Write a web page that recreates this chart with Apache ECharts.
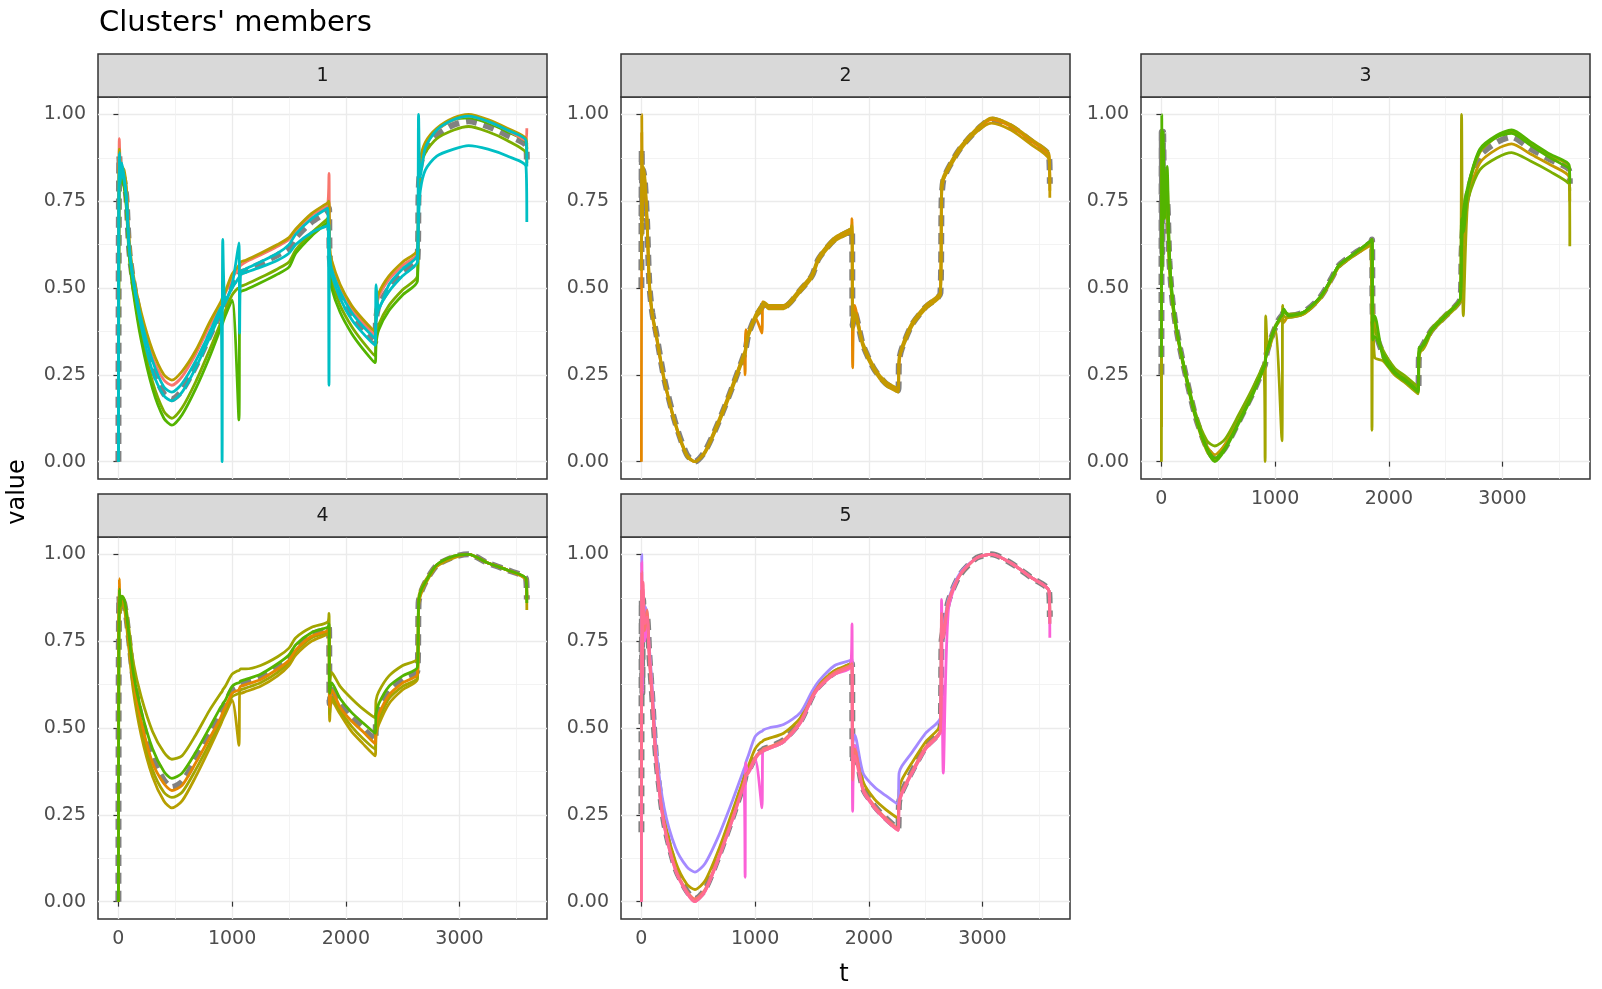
<!DOCTYPE html>
<html>
<head>
<meta charset="UTF-8">
<title>Clusters' members</title>
<script src="https://cdn.jsdelivr.net/npm/echarts@6/dist/echarts.min.js"></script>
<style>
  html,body{margin:0;padding:0;width:100%;height:100%;overflow:hidden;background:#fff;}
  #chart{position:absolute;left:0;top:0;width:1602px;height:989px;}
</style>
</head>
<body>
<div id="chart"></div>
<script>
// shared time knots (t) for every member curve
const tKnots = [0,3,8,15,30,50,70,95,130,200,300,400,470,560,680,800,900,912,918,940,1000,1060,1066,1075,1120,1250,1400,1500,1560,1700,1840,1852,1858,1875,1950,2050,2150,2258,2266,2290,2380,2500,2630,2640,2655,2700,2800,2950,3080,3250,3420,3585,3592];

// cluster 1
const c1A = [0,.55,.90,.86,.85,.84,.79,.64,.54,.43,.32,.25,.235,.26,.32,.40,.46,.47,.475,.49,.54,.565,.57,.575,.58,.60,.625,.645,.67,.715,.745,.75,.62,.58,.51,.45,.41,.375,.44,.485,.535,.575,.61,.79,.87,.92,.96,.99,1.0,.985,.96,.93,.90];
const c1B = [0,.6,.93,.87,.85,.83,.78,.63,.53,.42,.30,.235,.22,.245,.31,.39,.45,.46,.47,.485,.53,.555,.56,.565,.575,.595,.62,.64,.665,.71,.74,.83,.61,.57,.50,.44,.40,.365,.43,.475,.525,.565,.60,.78,.86,.915,.955,.985,.995,.98,.955,.925,.96];
const c1C = [0,.5,.86,.84,.82,.80,.74,.60,.50,.37,.23,.145,.125,.155,.23,.32,.40,.41,.415,.435,.48,.50,.50,.505,.51,.53,.555,.575,.61,.66,.70,.71,.57,.52,.45,.39,.345,.305,.36,.395,.45,.495,.535,.76,.84,.89,.93,.955,.965,.95,.925,.89,.86];
const c1D = [0,.45,.85,.83,.81,.79,.73,.59,.49,.35,.21,.125,.105,.135,.21,.30,.385,.395,.40,.42,.465,.12,.48,.49,.495,.515,.54,.56,.60,.65,.69,.70,.55,.50,.43,.37,.325,.285,.34,.38,.435,.48,.52,.75,.85,.91,.955,.985,.99,.975,.95,.92,.89];
const c1E = [0,.7,.88,.80,.86,.82,.76,.62,.53,.41,.29,.215,.20,.225,.29,.37,.445,0,.64,.46,.51,.63,.37,.545,.555,.575,.60,.625,.655,.70,.73,.22,.60,.555,.49,.43,.39,.355,.51,.44,.51,.555,.595,1.0,.82,.905,.955,.985,.995,.98,.955,.925,.85];
const c1F = [0,.65,.89,.84,.83,.81,.76,.61,.52,.39,.26,.19,.175,.20,.27,.355,.43,.44,.445,.46,.50,.53,.535,.54,.545,.56,.58,.60,.625,.66,.68,.685,.58,.54,.47,.41,.37,.335,.40,.44,.49,.535,.575,.70,.78,.84,.88,.90,.91,.90,.88,.85,.69];
const c1Center = [0,.6,.88,.84,.83,.81,.76,.61,.52,.40,.27,.195,.18,.205,.275,.36,.43,.44,.445,.465,.51,.535,.54,.545,.55,.57,.595,.615,.645,.69,.72,.73,.59,.55,.48,.42,.38,.345,.41,.45,.50,.545,.58,.77,.85,.90,.94,.97,.98,.965,.94,.91,.87];

// cluster 2
const c2A = [.55,1.0,.65,.85,.82,.70,.52,.43,.37,.24,.11,.02,0,.03,.12,.22,.31,.32,.33,.37,.42,.45,.45,.46,.45,.45,.50,.54,.59,.645,.67,.68,.40,.43,.34,.27,.23,.21,.29,.33,.40,.45,.49,.80,.82,.85,.905,.96,.99,.97,.93,.885,.76];
const c2B = [0,.95,.7,.83,.80,.68,.5,.42,.36,.235,.105,.018,0,.028,.115,.215,.30,.25,.38,.365,.415,.37,.46,.45,.445,.445,.495,.535,.585,.64,.665,.70,.27,.45,.335,.265,.225,.205,.28,.325,.395,.445,.485,.78,.81,.845,.90,.955,.985,.965,.925,.88,.80];
const c2C = [.6,.9,.8,.84,.81,.69,.51,.425,.365,.235,.105,.015,0,.025,.11,.21,.30,.31,.32,.36,.41,.44,.445,.455,.44,.44,.49,.53,.58,.635,.66,.665,.38,.42,.33,.26,.22,.20,.30,.32,.39,.44,.48,.76,.81,.84,.895,.95,.975,.955,.915,.87,.78];
const c2Center = [.5,.9,.7,.84,.81,.69,.51,.43,.37,.24,.11,.02,0,.03,.115,.215,.305,.315,.325,.365,.415,.445,.45,.455,.445,.445,.495,.535,.585,.64,.665,.67,.39,.43,.335,.265,.225,.205,.29,.325,.395,.445,.485,.75,.81,.845,.90,.955,.985,.965,.925,.88,.80];

// cluster 3
const c3A = [.3,1,.55,.95,.7,.85,.6,.48,.39,.27,.13,.035,0,.035,.11,.19,.27,.28,.30,.33,.385,.42,.42,.44,.42,.43,.475,.53,.565,.60,.635,.64,.40,.42,.30,.255,.23,.20,.31,.33,.38,.42,.47,.60,.72,.80,.90,.94,.955,.92,.885,.855,.80];
const c3B = [0,.95,.7,.9,.75,.80,.58,.47,.38,.265,.125,.03,.005,.04,.115,.195,.265,0,.42,.32,.38,.06,.45,.42,.415,.425,.47,.525,.56,.595,.63,.09,.50,.30,.29,.25,.225,.195,.32,.32,.375,.415,.465,1.0,.42,.78,.89,.935,.95,.915,.88,.85,.62];
const c3C = [.1,.9,.8,.82,.78,.75,.57,.47,.385,.27,.135,.045,.02,.05,.125,.20,.275,.285,.30,.33,.385,.415,.42,.40,.42,.425,.47,.525,.56,.595,.625,.64,.45,.40,.31,.265,.24,.21,.30,.325,.38,.42,.465,.55,.62,.76,.86,.90,.915,.885,.855,.82,.75];
const c3D = [.25,.85,.9,.75,.8,.72,.56,.46,.38,.275,.14,.06,.045,.065,.135,.21,.28,.29,.305,.335,.39,.42,.425,.43,.425,.43,.475,.53,.565,.60,.63,.635,.42,.38,.32,.27,.245,.215,.31,.33,.385,.425,.47,.65,.68,.76,.84,.875,.89,.865,.835,.80,.78];
const c3E = [.5,.95,.7,.9,.8,.78,.59,.475,.39,.27,.13,.04,.01,.04,.115,.195,.27,.28,.30,.33,.385,.42,.42,.435,.42,.43,.475,.53,.565,.60,.635,.64,.35,.36,.31,.26,.235,.205,.33,.33,.38,.42,.47,.70,.66,.79,.895,.935,.945,.91,.875,.845,.84];
const c3Center = [.25,.95,.6,.95,.7,.75,.58,.47,.385,.27,.13,.04,.01,.04,.115,.195,.27,.28,.30,.33,.385,.42,.42,.43,.42,.43,.475,.53,.565,.60,.63,.64,.42,.38,.31,.26,.235,.205,.31,.33,.38,.42,.47,.60,.68,.78,.88,.92,.935,.90,.87,.84,.80];

// cluster 4
const c4A = [0,.7,.9,.85,.88,.87,.83,.76,.66,.55,.44,.375,.355,.37,.43,.50,.56,.565,.57,.58,.62,.63,.63,.635,.64,.655,.685,.71,.74,.775,.79,.80,.60,.63,.585,.545,.515,.485,.54,.57,.62,.65,.675,.86,.89,.92,.97,.995,1.0,.975,.955,.93,.86];
const c4B = [0,.6,.88,.87,.88,.87,.84,.78,.69,.59,.49,.43,.41,.42,.48,.55,.60,.605,.61,.62,.655,.665,.665,.67,.67,.68,.705,.73,.76,.79,.805,.83,.62,.66,.62,.585,.555,.53,.58,.605,.65,.68,.70,.87,.895,.925,.97,.995,1.0,.975,.955,.93,.88];
const c4C = [0,.75,.86,.83,.86,.85,.80,.72,.61,.48,.36,.29,.27,.29,.36,.44,.51,.52,.525,.54,.58,.45,.60,.60,.605,.62,.65,.68,.71,.75,.77,.775,.52,.58,.54,.49,.455,.42,.48,.51,.57,.61,.64,.85,.88,.915,.965,.99,1.0,.975,.955,.925,.84];
const c4D = [0,.8,.93,.86,.87,.86,.82,.74,.64,.52,.40,.34,.32,.335,.40,.47,.53,.54,.545,.56,.60,.61,.615,.62,.625,.64,.67,.695,.725,.765,.78,.79,.56,.61,.56,.52,.49,.455,.51,.54,.595,.63,.655,.855,.885,.92,.968,.993,1.0,.975,.955,.928,.87];
const c4E = [0,.65,.87,.84,.86,.855,.81,.73,.625,.50,.38,.315,.30,.315,.38,.455,.52,.53,.535,.55,.59,.60,.605,.61,.615,.63,.66,.69,.72,.76,.775,.78,.54,.59,.55,.505,.47,.44,.495,.525,.585,.62,.645,.86,.885,.92,.968,.993,1.0,.975,.955,.93,.87];
const c4Center = [0,.7,.88,.85,.87,.86,.82,.75,.65,.53,.415,.35,.33,.345,.41,.485,.545,.55,.555,.57,.61,.62,.62,.625,.63,.645,.675,.70,.73,.77,.785,.79,.57,.61,.57,.53,.50,.465,.52,.55,.60,.64,.665,.86,.885,.92,.968,.993,1.0,.975,.955,.93,.87];

// cluster 5
const c5A = [0,.95,.65,.92,.8,.82,.72,.60,.40,.22,.09,.025,0,.03,.125,.235,.335,.35,.36,.37,.41,.43,.43,.435,.44,.46,.515,.585,.615,.655,.675,.68,.35,.42,.32,.27,.235,.205,.28,.31,.37,.44,.49,.83,.76,.86,.94,.99,1.0,.975,.935,.895,.80];
const c5B = [.3,.9,.7,.88,.78,.84,.70,.58,.41,.225,.095,.03,.008,.035,.13,.24,.34,.355,.365,.375,.415,.435,.435,.44,.445,.465,.52,.59,.62,.66,.68,.685,.40,.44,.325,.275,.24,.21,.285,.315,.375,.445,.495,.80,.78,.865,.94,.99,1.0,.975,.935,.895,.82];
const c5C = [.6,1,.75,.83,.85,.83,.73,.62,.44,.27,.155,.10,.085,.11,.19,.29,.38,.39,.40,.42,.475,.49,.49,.495,.50,.51,.545,.605,.635,.68,.695,.70,.45,.48,.37,.33,.305,.28,.37,.39,.43,.485,.53,.80,.80,.87,.945,.99,1.0,.975,.935,.895,.80];
const c5D = [0,.98,.6,.9,.75,.8,.70,.59,.40,.22,.09,.025,0,.03,.125,.235,.335,.07,.40,.37,.41,.27,.43,.435,.44,.46,.515,.585,.615,.655,.675,.80,.26,.45,.32,.27,.235,.205,.28,.31,.37,.44,.49,.87,.37,.84,.94,.99,1.0,.975,.935,.895,.76];
const c5E = [.4,.9,.7,.85,.8,.82,.71,.60,.42,.24,.115,.05,.035,.06,.15,.26,.355,.365,.375,.39,.44,.46,.46,.465,.47,.485,.53,.595,.625,.665,.685,.69,.42,.45,.345,.295,.265,.24,.32,.35,.40,.46,.51,.80,.79,.865,.94,.99,1.0,.975,.935,.895,.80];
const c5Center = [.2,.87,.6,.87,.78,.82,.71,.59,.41,.225,.095,.03,.008,.035,.13,.24,.34,.355,.365,.375,.415,.435,.435,.44,.445,.465,.52,.59,.62,.66,.68,.685,.40,.44,.325,.275,.24,.21,.285,.315,.375,.445,.495,.75,.78,.865,.94,.99,1.0,.975,.935,.895,.82];

const panelLabels = ['1','2','3','4','5'];
const yTicks = [0, 0.25, 0.5, 0.75, 1];
const yMinor = [0.125, 0.375, 0.625, 0.875];
const xTicks = [0, 1000, 2000, 3000];
const xMinor = [500, 1500, 2500, 3500];

const panels = [
  {members:[c1C,c1D,c1B,c1A,c1F,c1E], colors:['#7CAE00','#53B400','#F8766D','#B79F00','#00BFC4','#00BFC4'], center:c1Center},
  {members:[c2B,c2C,c2A], colors:['#E58700','#C49A00','#C49A00'], center:c2Center},
  {members:[c3C,c3D,c3B,c3E,c3A], colors:['#C49A00','#7CAE00','#A3A500','#53B400','#53B400'], center:c3Center},
  {members:[c4C,c4B,c4E,c4D,c4A], colors:['#B79F00','#A3A500','#A3A500','#E58700','#53B400'], center:c4Center},
  {members:[c5E,c5C,c5D,c5B,c5A], colors:['#B79F00','#A58AFF','#FB61D7','#F8766D','#FF6C91'], center:c5Center}
];

const FONT = "'DejaVu Sans', sans-serif";
const colX = [98, 621, 1141], rowY = [97, 537];
const PW = 449, PH = 382, STRIP = 43;
const pos = [[0,0],[1,0],[2,0],[0,1],[1,1]];
const withLabelsX = [false, false, true, true, true];

const zip = vals => tKnots.map((t, i) => [t, vals[i]]);

const grids = [], xAxes = [], yAxes = [], series = [], graphics = [];
pos.forEach(([c, r], i) => {
  const left = colX[c], top = rowY[r];
  grids.push({left, top, width: PW, height: PH, show: true, borderColor: '#333', borderWidth: 1.5, backgroundColor: '#fff'});
  const xBase = {gridIndex: i, type: 'value', min: -179.5, max: 3769.5, axisLine: {show: false}};
  xAxes.push(Object.assign({}, xBase, {
    axisTick: {show: withLabelsX[i], length: 5, customValues: xTicks, lineStyle: {color: '#333', width: 1.2}},
    axisLabel: {show: withLabelsX[i], customValues: xTicks, margin: 11, color: '#4D4D4D', fontSize: 19, fontFamily: FONT, formatter: v => String(v)},
    splitLine: {show: true, lineStyle: {color: '#EBEBEB', width: 1.3}}
  }));
  xAxes.push(Object.assign({}, xBase, {
    axisTick: {show: false, customValues: xMinor},
    axisLabel: {show: false, customValues: xMinor},
    splitLine: {show: true, lineStyle: {color: '#F0F0F0', width: 0.8}}
  }));
  const yBase = {gridIndex: i, type: 'value', min: -0.05, max: 1.05, axisLine: {show: false}};
  yAxes.push(Object.assign({}, yBase, {
    axisTick: {show: true, length: 5, customValues: yTicks, lineStyle: {color: '#333', width: 1.2}},
    axisLabel: {customValues: yTicks, margin: 12, color: '#4D4D4D', fontSize: 19, fontFamily: FONT, formatter: v => v.toFixed(2)},
    splitLine: {show: true, lineStyle: {color: '#EBEBEB', width: 1.3}}
  }));
  yAxes.push(Object.assign({}, yBase, {
    axisTick: {show: false, customValues: yMinor},
    axisLabel: {show: false, customValues: yMinor},
    splitLine: {show: true, lineStyle: {color: '#F0F0F0', width: 0.8}}
  }));

  const p = panels[i];
  series.push({
    type: 'line', xAxisIndex: 2 * i, yAxisIndex: 2 * i, data: zip(p.center),
    showSymbol: false, z: 2, silent: true, smooth: 0.25,
    lineStyle: {color: 'rgba(115,115,115,0.9)', width: 6, type: [11, 7]}
  });
  p.members.forEach((m, k) => {
    series.push({
      type: 'line', xAxisIndex: 2 * i, yAxisIndex: 2 * i, data: zip(m),
      showSymbol: false, z: 3, silent: true, smooth: 0.25,
      lineStyle: {color: p.colors[k], width: 2.8}
    });
  });

  // facet strip
  graphics.push({type: 'rect', shape: {x: left, y: top - STRIP, width: PW, height: STRIP},
    style: {fill: '#D9D9D9', stroke: '#333', lineWidth: 1.5}, z: 10});
  graphics.push({type: 'text', x: left + PW / 2, y: top - STRIP / 2 + 1, z: 11,
    style: {text: panelLabels[i], fill: '#1A1A1A', font: `19px ${FONT}`, align: 'center', verticalAlign: 'middle'}});
});

graphics.push({type: 'text', x: 99, y: 23, style: {text: "Clusters' members", fill: '#000', font: `29px ${FONT}`, align: 'left', verticalAlign: 'middle'}});
graphics.push({type: 'text', x: 844, y: 975, style: {text: 't', fill: '#000', font: `24px ${FONT}`, align: 'center', verticalAlign: 'middle'}});
graphics.push({type: 'text', x: 18, y: 492, rotation: Math.PI / 2, style: {text: 'value', fill: '#000', font: `24px ${FONT}`, align: 'center', verticalAlign: 'middle'}});

const chart = echarts.init(document.getElementById('chart'));
chart.setOption({
  animation: false,
  backgroundColor: '#fff',
  grid: grids,
  xAxis: xAxes,
  yAxis: yAxes,
  series: series,
  graphic: graphics
});
</script>
</body>
</html>
